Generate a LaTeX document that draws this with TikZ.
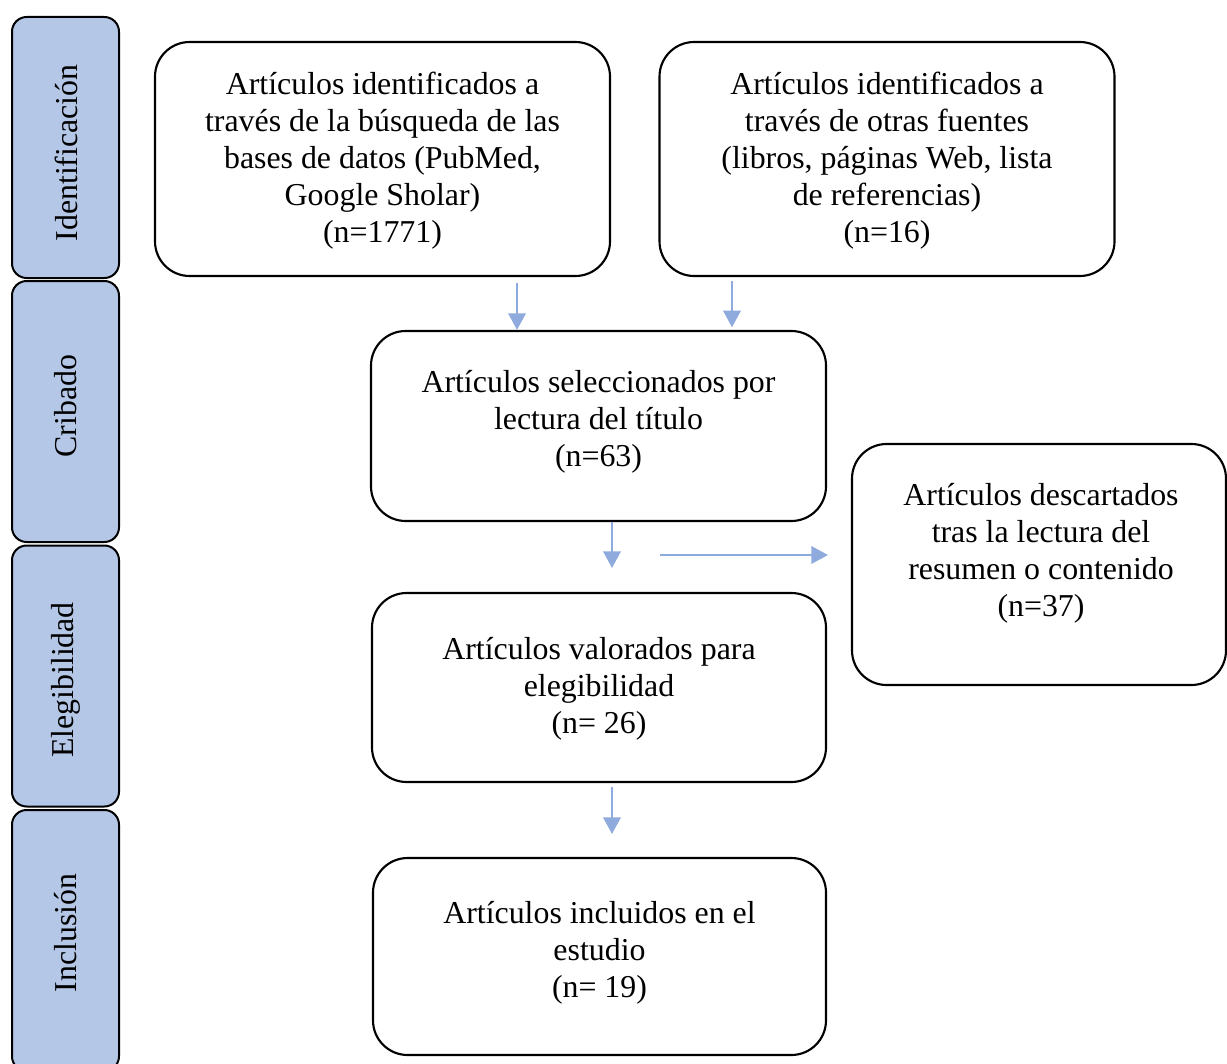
\documentclass[tikz,border=0pt]{standalone}
\usepackage{fontspec}
\setmainfont{Liberation Serif}
\usetikzlibrary{arrows.meta}
\definecolor{barfill}{HTML}{B4C7E7}
\definecolor{arrowcol}{HTML}{8FAADC}
\tikzset{
  flowbox/.style={draw=black, line width=1.6pt, rounded corners=26pt, align=center,
    inner sep=0pt, font=\fontsize{23.9pt}{27.8pt}\selectfont},
  boxtext/.style={align=center, inner sep=0pt, font=\fontsize{23.9pt}{27.8pt}\selectfont},
  phasebar/.style={draw=black, line width=1.5pt, fill=barfill, rounded corners=11pt,
    minimum width=80.25pt, minimum height=195.75pt, inner sep=0pt},
  phaselabel/.style={rotate=90, font=\fontsize{23.9pt}{27.8pt}\selectfont},
  arr/.style={draw=arrowcol, line width=2pt, -{Triangle[width=13pt,length=12.5pt]}}
}
\begin{document}
\begin{tikzpicture}[x=0.75pt,y=-0.75pt]
\useasboundingbox (0,0) rectangle (1227,1063);
\begin{scope}
\clip (0,0) rectangle (1227,1063);
% phase bars
\node[phasebar] (p1) at (65.5,147.5) {};
\node[phasebar] (p2) at (65.5,411.5) {};
\node[phasebar] (p3) at (65.5,676) {};
\node[phasebar] (p4) at (65.5,940.5) {};
\node[phaselabel] (l1) at (66,153) {Identificación};
\node[phaselabel] (l2) at (66,406) {Cribado};
\node[phaselabel] (l3) at (66,680) {Elegibilidad};
\node[phaselabel] (l4) at (66,933) {Inclusión};
% boxes
\node[flowbox, minimum width=341.25pt, minimum height=175.5pt] (b1) at (382.5,159) {};
\node[boxtext] (t1) at (382.5,161)
  {Artículos identificados a\\través de la búsqueda de las\\bases de datos (PubMed,\\Google Sholar)\\(n=1771)};
\node[flowbox, minimum width=341.25pt, minimum height=175.5pt] (b2) at (887,159) {};
\node[boxtext] (t2) at (887,161)
  {Artículos identificados a\\través de otras fuentes\\(libros, páginas Web, lista\\de referencias)\\(n=16)};
\node[flowbox, minimum width=341.25pt, minimum height=142.5pt] (b3) at (598.5,426) {};
\node[boxtext] (t3) at (598.5,422)
  {Artículos seleccionados por\\lectura del título\\(n=63)};
\node[flowbox, minimum width=280.5pt, minimum height=180.75pt] (b6) at (1039,564.5) {};
\node[boxtext] (t6) at (1041,553)
  {Artículos descartados\\tras la lectura del\\resumen o contenido\\(n=37)};
\node[flowbox, minimum width=340.5pt, minimum height=141.75pt] (b4) at (599,687.5) {};
\node[boxtext] (t4) at (599,689)
  {Artículos valorados para\\elegibilidad\\(n= 26)};
\node[flowbox, minimum width=339.75pt, minimum height=147.75pt] (b5) at (599.5,956.5) {};
\node[boxtext] (t5) at (599.5,953)
  {Artículos incluidos en el\\estudio\\(n= 19)};
% arrows
\coordinate (a1) at (517,283);
\coordinate (a2) at (732,281);
\coordinate (a3) at (612,522);
\coordinate (a3e) at (612,568);
\coordinate (h1) at (660,555);
\coordinate (h1e) at (828,555);
\coordinate (a4) at (612,787);
\coordinate (a4e) at (612,834);
\draw[arr] (a1) -- (a1 |- b3.north);
\draw[arr] (a2) -- ([yshift=2pt]a2 |- b3.north);
\draw[arr] (a3) -- (a3e);
\draw[arr] (h1) -- (h1e);
\draw[arr] (a4) -- (a4e);
\end{scope}
\end{tikzpicture}
\end{document}
